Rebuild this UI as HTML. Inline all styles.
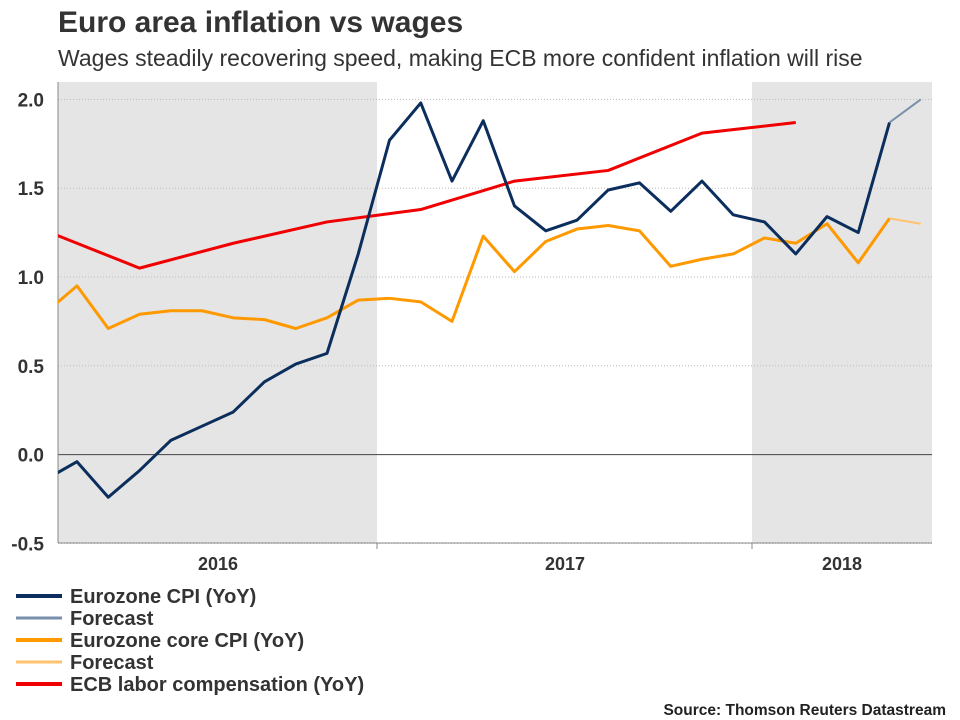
<!DOCTYPE html>
<html><head><meta charset="utf-8"><style>
body{margin:0;background:#fff;font-family:"Liberation Sans",Arial,sans-serif;}
#c{position:relative;width:960px;height:720px;overflow:hidden;}
</style></head><body>
<div id="c">
<svg id="s" width="960" height="720" xmlns="http://www.w3.org/2000/svg" font-family="Liberation Sans, Arial, sans-serif">
<text x="58" y="32" font-size="30" font-weight="bold" fill="#333">Euro area inflation vs wages</text>
<text x="58" y="66" font-size="23" fill="#333">Wages steadily recovering speed, making ECB more confident inflation will rise</text>
<text x="946" y="715" font-size="15.5" font-weight="bold" fill="#222" text-anchor="end">Source: Thomson Reuters Datastream</text>
<g id="plot"></g>
</svg>
</div>
<script>
const yTicks=[2.0,1.5,1.0,0.5,0.0,-0.5];
const yearLabels=["2016","2017","2018"];
const cpi=[-0.14,-0.04,-0.24,-0.09,0.08,0.16,0.24,0.41,0.51,0.57,1.13,1.77,1.98,1.54,1.88,1.40,1.26,1.32,1.49,1.53,1.37,1.54,1.35,1.31,1.13,1.34,1.25,1.87];
const cpiForecast=[1.87,2.0];
const core=[0.80,0.95,0.71,0.79,0.81,0.81,0.77,0.76,0.71,0.77,0.87,0.88,0.86,0.75,1.23,1.03,1.20,1.27,1.29,1.26,1.06,1.10,1.13,1.22,1.19,1.30,1.08,1.33];
const coreForecast=[1.33,1.30];
const wages=[1.26,1.05,1.19,1.31,1.38,1.54,1.60,1.81,1.87];
const ns="http://www.w3.org/2000/svg";
const L=58,R=932,T=82,B=543;
const x=i=>45.75+31.25*i;
const y=v=>454.6-v*177.6;
const g=document.getElementById('plot');
function mk(t,a,p){const e=document.createElementNS(ns,t);for(const k in a)e.setAttribute(k,a[k]);(p||g).appendChild(e);return e;}
const clip=mk('clipPath',{id:'cp'});mk('rect',{x:L,y:T,width:R-L,height:B-T},clip);
let e;
e=mk('rect',{x:L,y:T,width:377-L,height:B-T,fill:'#e5e5e5'});


e=mk('rect',{x:752,y:T,width:R-752,height:B-T,fill:'#e5e5e5'});


yTicks.forEach(v=>{
 e=mk('line',{x1:L,x2:R,y1:y(v),y2:y(v),stroke:v===0?'#444':'#bbb','stroke-width':1,'stroke-dasharray':v===0?'':'1,2'});
 
 
 e=mk('text',{x:44,y:y(v)+7,'font-size':19,'font-weight':'bold',fill:'#333','text-anchor':'end'});
 e.textContent=v.toFixed(1);
 
 
});
e=mk('line',{x1:L,x2:L,y1:T,y2:B,stroke:'#888'});


e=mk('line',{x1:L,x2:R,y1:B,y2:B,stroke:'#888'});


[377,752].forEach(px=>{e=mk('line',{x1:px,x2:px,y1:B,y2:B+6,stroke:'#888'});
 
 });
[218,565,842].forEach((px,i)=>{e=mk('text',{x:px,y:570,'font-size':18,'font-weight':'bold',fill:'#333','text-anchor':'middle'});
 e.textContent=yearLabels[i];
 
 });
function line(vals,start,step,color,w,name){
 const pts=vals.map((v,i)=>x(start+i*step)+','+y(v)).join(' ');
 const el=mk('polyline',{points:pts,fill:'none',stroke:color,'stroke-width':w,'stroke-linejoin':'round','clip-path':'url(#cp)'});
 
 
}
line(wages,0,3,'#f00000',3,'wages-line');
line(core,0,1,'#ff9900',3,'core-cpi-line');
line(coreForecast,27,1,'#ffc26e',2,'core-forecast-line');
line(cpi,0,1,'#0b2e5c',3,'cpi-line');
line(cpiForecast,27,1,'#7a8fab',2,'cpi-forecast-line');
const leg=[["Eurozone CPI (YoY)","#0b2e5c",4],["Forecast","#7a8fab",3],["Eurozone core CPI (YoY)","#ff9900",4],["Forecast","#ffc26e",3],["ECB labor compensation (YoY)","#f00000",4]];
leg.forEach((l,i)=>{const yy=596+i*22;
 const gg=mk('g',{});
 
 
 mk('line',{x1:16,x2:62,y1:yy,y2:yy,stroke:l[1],'stroke-width':l[2]},gg);
 const t=mk('text',{x:70,y:yy+7,'font-size':20,'font-weight':'bold',fill:'#333'},gg);t.textContent=l[0];});
</script>
</body></html>
